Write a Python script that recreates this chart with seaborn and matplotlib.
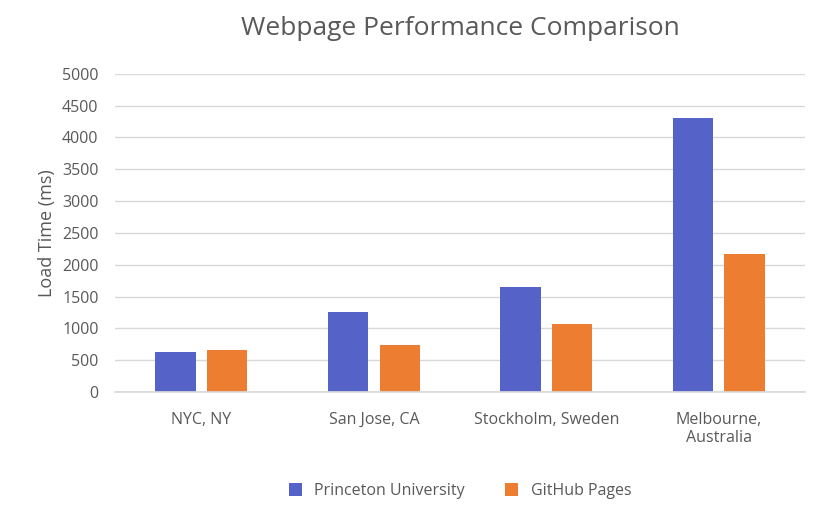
import matplotlib
matplotlib.use("Agg")
import matplotlib.pyplot as plt
import seaborn as sns
import pandas as pd

categories = ["NYC, NY", "San Jose, CA", "Stockholm, Sweden", "Melbourne,\nAustralia"]
princeton = [630, 1260, 1650, 4310]
github = [660, 740, 1070, 2170]
series = ["Princeton University", "GitHub Pages"]

df = pd.DataFrame({
    "city": categories * 2,
    "series": [series[0]] * 4 + [series[1]] * 4,
    "value": princeton + github,
})

sns.set_theme(style="white")
plt.rcParams['font.family'] = ['Open Sans', 'DejaVu Sans']
fig, ax = plt.subplots(figsize=(8.23, 5.16), dpi=100)
sns.barplot(data=df, x="city", y="value", hue="series",
            palette=["#5562C8", "#ED7D31"], width=0.6, gap=0.22, ax=ax,
            saturation=1, linewidth=0)
ax.set_ylim(0, 5000)
ax.set_yticks(range(0, 5001, 500))
ax.yaxis.grid(True, color="#D9D9D9", linewidth=1)
ax.set_axisbelow(True)
for s in ["top", "right", "left"]:
    ax.spines[s].set_visible(False)
ax.spines["bottom"].set_color("#D9D9D9")
ax.tick_params(axis="both", colors="#595959", labelsize=11.5, length=0)
ax.tick_params(axis="x", pad=14)
ax.tick_params(axis="y", pad=12)
ax.set_xlabel("")
ax.set_ylabel("Load Time (ms)", color="#595959", fontsize=13)
ax.set_title("Webpage Performance Comparison", color="#595959", fontsize=19, pad=28)
ax.legend(loc="upper center", bbox_to_anchor=(0.5, -0.24), ncol=2, frameon=False,
          fontsize=11.5, labelcolor="#595959", handlelength=0.8, handleheight=0.8,
          columnspacing=2.5)
plt.subplots_adjust(left=0.14, right=0.978, top=0.857, bottom=0.24)
fig.savefig("out.png")
